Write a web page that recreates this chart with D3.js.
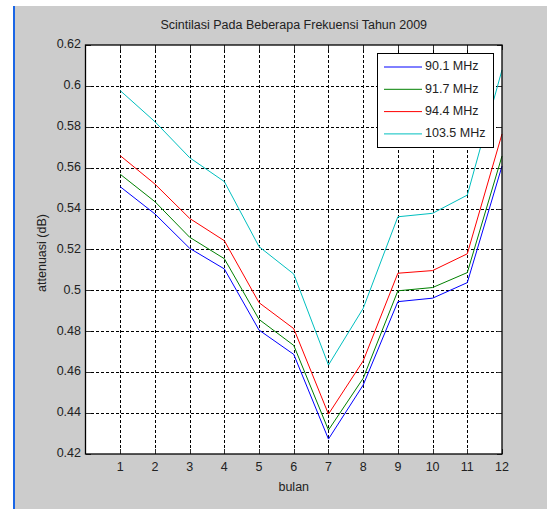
<!DOCTYPE html>
<html>
<head>
<meta charset="utf-8">
<script src="https://cdn.jsdelivr.net/npm/d3@7"></script>
<style>
body{margin:0;background:#fff;}
text{font-family:"Liberation Sans",Arial,sans-serif;fill:#222;font-size:12.5px;}
</style>
</head>
<body>
<div id="chart"></div>
<script>
let months=[1,2,3,4,5,6,7,8,9,10,11,12];
let xTicks=[1,2,3,4,5,6,7,8,9,10,11,12];
let yTicks=[0.42,0.44,0.46,0.48,0.5,0.52,0.54,0.56,0.58,0.6,0.62];
let seriesNames=["90.1 MHz","91.7 MHz","94.4 MHz","103.5 MHz"];
let seriesColors=["#0000ff","#008000","#ff0000","#00bfbf"];
let f901=[0.5507,0.5374,0.5206,0.5105,0.4806,0.4687,0.4273,0.4537,0.4945,0.4962,0.5038,0.5608];
let f917=[0.5568,0.5434,0.526,0.5155,0.4858,0.4731,0.4317,0.457,0.4998,0.5014,0.5087,0.5657];
let f944=[0.5659,0.552,0.5352,0.5243,0.494,0.4813,0.4395,0.4655,0.5084,0.5097,0.5179,0.5765];
let f1035=[0.5977,0.5825,0.5649,0.5532,0.5214,0.508,0.4635,0.4912,0.536,0.5377,0.5466,0.6078];
let allSeries=[f901,f917,f944,f1035];

let width=547, height=509;
let pLeft=85.5, pRight=502, pTop=45, pBottom=454;

let svg=d3.select("#chart").append("svg").attr("width",width).attr("height",height);

// figure background
svg.append("rect").attr("x",14).attr("y",6).attr("width",width-14).attr("height",height-6).attr("fill","#cccccc");
svg.append("rect").attr("x",13).attr("y",6).attr("width",2).attr("height",height-6).attr("fill","#1a66e6");

let x=d3.scaleLinear().domain([0,12]).range([pLeft,pRight]);
let y=d3.scaleLinear().domain([0.42,0.62]).range([pBottom,pTop]);

svg.append("rect").attr("x",pLeft).attr("y",pTop).attr("width",pRight-pLeft).attr("height",pBottom-pTop).attr("fill","#fff");

// grid
let grid=svg.append("g").attr("stroke","#000").attr("stroke-width",1).attr("stroke-dasharray","3,2").attr("shape-rendering","crispEdges");
grid.selectAll("line.gx").data(xTicks.slice(0,-1)).enter().append("line")
  .attr("x1",d=>Math.round(x(d))+0.5).attr("x2",d=>Math.round(x(d))+0.5).attr("y1",pTop).attr("y2",pBottom);
grid.selectAll("line.gy").data(yTicks.slice(1,-1)).enter().append("line")
  .attr("y1",d=>Math.round(y(d))+0.5).attr("y2",d=>Math.round(y(d))+0.5).attr("x1",pLeft).attr("x2",pRight);

// inward ticks on all sides
let tk=svg.append("g").attr("stroke","#333").attr("stroke-width",1).attr("shape-rendering","crispEdges");
xTicks.forEach(function(d){
  let px=Math.round(x(d))+0.5;
  tk.append("line").attr("x1",px).attr("x2",px).attr("y1",pBottom).attr("y2",pBottom-5);
  tk.append("line").attr("x1",px).attr("x2",px).attr("y1",pTop).attr("y2",pTop+5);
});
yTicks.forEach(function(d){
  let py=Math.round(y(d))+0.5;
  tk.append("line").attr("x1",pLeft).attr("x2",pLeft+5).attr("y1",py).attr("y2",py);
  tk.append("line").attr("x1",pRight).attr("x2",pRight-5).attr("y1",py).attr("y2",py);
});

// lines
let line=d3.line().x((d,i)=>x(months[i])).y(d=>y(d));
svg.append("g").selectAll("path").data(allSeries).enter().append("path")
  .attr("d",line).attr("fill","none").attr("stroke",(d,i)=>seriesColors[i]).attr("stroke-width",1);

// axes box
svg.append("rect").attr("x",pLeft).attr("y",pTop).attr("width",pRight-pLeft).attr("height",pBottom-pTop)
  .attr("fill","none").attr("stroke","#000").attr("stroke-width",1.3);

// tick labels
svg.append("g").selectAll("text").data(xTicks).enter().append("text")
  .attr("x",d=>x(d)).attr("y",468).attr("text-anchor","middle").attr("dominant-baseline","middle")
  .text(d=>d);
svg.append("g").selectAll("text").data(yTicks).enter().append("text")
  .attr("x",81).attr("y",d=>y(d)).attr("text-anchor","end").attr("dominant-baseline","middle")
  .text(d=>d3.format("")(+d.toFixed(2)));

// titles
svg.append("text").text("Scintilasi Pada Beberapa Frekuensi Tahun 2009")
  .attr("x",(pLeft+pRight)/2).attr("y",26).attr("text-anchor","middle").attr("dominant-baseline","middle");
svg.append("text").text("bulan")
  .attr("x",(pLeft+pRight)/2).attr("y",488).attr("text-anchor","middle").attr("dominant-baseline","middle");
svg.append("text").text("attenuasi (dB)")
  .attr("transform","translate(43,253) rotate(-90)").attr("text-anchor","middle").attr("dominant-baseline","middle");

// legend
let lg=svg.append("g");
lg.append("rect").attr("x",377.5).attr("y",53.5).attr("width",116).attr("height",94)
  .attr("fill","#fff").attr("stroke","#000").attr("stroke-width",1);
seriesNames.forEach(function(name,i){
  let ly=67+i*22.3;
  lg.append("line").attr("x1",384).attr("x2",422).attr("y1",ly).attr("y2",ly).attr("stroke",seriesColors[i]).attr("stroke-width",1);
  lg.append("text").attr("x",425).attr("y",ly).attr("dominant-baseline","middle").text(name);
});
</script>
</body>
</html>
